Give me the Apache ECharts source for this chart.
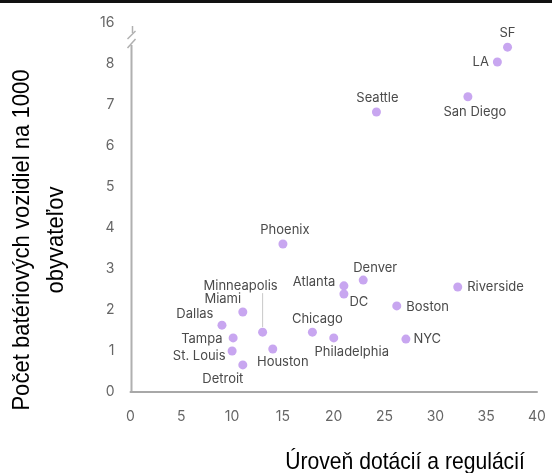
<!DOCTYPE html>
<html>
<head>
<meta charset="utf-8">
<script src="https://cdn.jsdelivr.net/npm/echarts@6/dist/echarts.min.js"></script>
<style>
html,body{margin:0;padding:0;background:#fff;}
#c{width:552px;height:473px;}
</style>
</head>
<body>
<div id="c"></div>
<script>
// ---- data ----
var cities = ['SF','LA','San Diego','Seattle','Phoenix','Denver','Atlanta','DC','Riverside','Boston','Miami','Dallas','Minneapolis','Chicago','Philadelphia','Tampa','NYC','St. Louis','Houston','Detroit'];
var subsidy = [37.1, 36.1, 33.2, 24.2, 15.0, 22.9, 21.0, 21.0, 32.2, 26.2, 11.05, 9.0, 13.0, 17.9, 20.0, 10.1, 27.1, 10.0, 14.0, 11.05];
var evPer1000 = [8.41, 8.05, 7.2, 6.83, 3.61, 2.73, 2.59, 2.39, 2.56, 2.10, 1.95, 1.63, 1.46, 1.46, 1.32, 1.32, 1.29, 1.0, 1.05, 0.66];
var xTicks = [0,5,10,15,20,25,30,35,40];
var yTickLabels = {0:'0',1:'1',2:'2',3:'3',4:'4',5:'5',6:'6',7:'7',8:'8',9:'16'};
var yTitle = 'Počet batériových vozidiel na 1000\nobyvateľov';
var xTitle = 'Úroveň dotácií a regulácií';

// ---- label placement (style) ----
var place = {
  'SF':{position:'top',distance:3,offset:[0,0]},
  'LA':{position:'left',distance:4,offset:[0,0]},
  'San Diego':{position:'bottom',distance:4,offset:[7,0]},
  'Seattle':{position:'top',distance:3,offset:[1,0]},
  'Phoenix':{position:'top',distance:3,offset:[2,0]},
  'Denver':{position:'top',distance:1,offset:[12,0]},
  'Atlanta':{position:'left',distance:4,offset:[0,-4]},
  'DC':{position:'right',distance:1,offset:[0,8]},
  'Riverside':{position:'right',distance:5,offset:[0,0]},
  'Boston':{position:'right',distance:5,offset:[0,1]},
  'Miami':{position:'top',distance:2,offset:[-20,0]},
  'Dallas':{position:'left',distance:4,offset:[0,-11]},
  'Minneapolis':{position:'top',distance:35,offset:[-22,0]},
  'Chicago':{position:'top',distance:2,offset:[5,0]},
  'Philadelphia':{position:'bottom',distance:3,offset:[18,0]},
  'Tampa':{position:'left',distance:6,offset:[0,1]},
  'NYC':{position:'right',distance:3,offset:[0,0]},
  'St. Louis':{position:'left',distance:2,offset:[0,5]},
  'Houston':{position:'bottom',distance:2,offset:[10,0]},
  'Detroit':{position:'bottom',distance:3,offset:[-20,0]}
};

var pts = cities.map(function(n,i){
  var p = place[n];
  return {name:n, value:[subsidy[i], evPer1000[i]],
    label:{show:true, formatter:n, position:p.position, distance:p.distance, offset:p.offset}};
});

var chart = echarts.init(document.getElementById('c'), null, {renderer:'canvas'});
var option = {
  animation:false,
  backgroundColor:'#ffffff',
  grid:{left:130.5, right:15, top:23, bottom:81, containLabel:false},
  xAxis:{type:'value', min:xTicks[0], max:xTicks[xTicks.length-1], interval:5,
    axisLine:{show:true, onZero:false, lineStyle:{color:'#a8a8a8', width:2}},
    axisTick:{show:false}, splitLine:{show:false},
    axisLabel:{color:'#666', fontSize:14, fontFamily:'Inter', margin:18}},
  yAxis:{type:'value', min:0, max:9, interval:1,
    axisLine:{show:false}, axisTick:{show:false}, splitLine:{show:false},
    axisLabel:{color:'#666', fontSize:14, fontFamily:'Inter', margin:16,
      formatter:function(v){return yTickLabels[v];}}},
  series:[{type:'scatter', symbolSize:9,
    itemStyle:{color:'#c8a6f0', opacity:1},
    label:{color:'#4a4a4a', fontSize:13, fontFamily:'Inter'},
    data:pts}]
};
chart.setOption(option);

function px(x,y){return chart.convertToPixel({gridIndex:0},[x,y]);}
var o = px(0,0), top9 = px(0,9);
var ax = o[0]+1;
var mi = cities.indexOf('Minneapolis');
var mp = px(subsidy[mi], evPer1000[mi]);
var g = [
  {type:'rect', shape:{x:0,y:0,width:552,height:3}, style:{fill:'#111'}},
  // y axis line with break
  {type:'line', shape:{x1:ax,y1:o[1],x2:ax,y2:top9[1]+22}, style:{stroke:'#b0b0b0', lineWidth:2}},
  {type:'line', shape:{x1:ax-4,y1:top9[1]+25,x2:ax+4,y2:top9[1]+16}, style:{stroke:'#b0b0b0', lineWidth:1.5}},
  {type:'line', shape:{x1:ax-4,y1:top9[1]+16,x2:ax+4,y2:top9[1]+8}, style:{stroke:'#b0b0b0', lineWidth:1.5}},
  {type:'line', shape:{x1:ax+1,y1:top9[1]+10,x2:ax+1,y2:top9[1]+3}, style:{stroke:'#b0b0b0', lineWidth:1.5}},
  // Minneapolis leader
  {type:'line', shape:{x1:mp[0],y1:mp[1]-5,x2:mp[0],y2:mp[1]-39}, style:{stroke:'#c8c8c8', lineWidth:1}},
  // titles
  {type:'text', x:39.5, y:240, rotation:Math.PI/2, scaleX:0.92,
    style:{text:yTitle, fill:'#000', font:'24px "Liberation Sans", Arial', textAlign:'center', textVerticalAlign:'middle', lineHeight:34}},
  {type:'text', x:405, y:462, scaleX:0.88,
    style:{text:xTitle, fill:'#000', font:'24px "Liberation Sans", Arial', textAlign:'center', textVerticalAlign:'middle'}}
];
chart.setOption({graphic:g});
</script>
</body>
</html>
